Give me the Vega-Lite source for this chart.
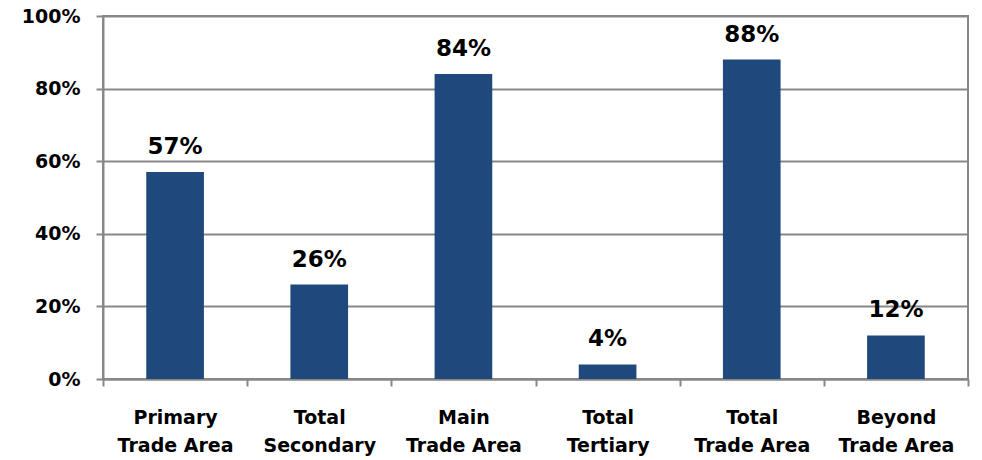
{
  "$schema": "https://vega.github.io/schema/vega-lite/v6.json",
  "autosize": {"type": "none"},
  "width": 865,
  "height": 363,
  "padding": {"left": 103, "top": 16, "right": 14, "bottom": 81},
  "background": "white",
  "config": {
    "view": {"stroke": "#888888", "strokeWidth": 2},
    "font": "DejaVu Sans"
  },
  "data": {
    "values": [
      {"area": "Primary|Trade Area", "share": 0.57, "label": "57%"},
      {"area": "Total|Secondary", "share": 0.26, "label": "26%"},
      {"area": "Main|Trade Area", "share": 0.84, "label": "84%"},
      {"area": "Total|Tertiary", "share": 0.04, "label": "4%"},
      {"area": "Total|Trade Area", "share": 0.88, "label": "88%"},
      {"area": "Beyond|Trade Area", "share": 0.12, "label": "12%"}
    ]
  },
  "encoding": {
    "x": {
      "field": "area",
      "type": "nominal",
      "sort": null,
      "scale": {"paddingInner": 0, "paddingOuter": 0},
      "axis": {
        "title": null,
        "labelAngle": 0,
        "labelExpr": "isValid(datum.value) ? split(datum.value, '|') : ''",
        "labelFont": "DejaVu Sans",
        "labelFontWeight": "bold",
        "labelFontSize": 19,
        "labelColor": "#000000",
        "labelLineHeight": 28,
        "labelPadding": 22,
        "labelBaseline": "top",
        "tickBand": "extent",
        "tickSize": 7,
        "tickColor": "#888888",
        "tickWidth": 2,
        "domainColor": "#888888",
        "domainWidth": 2,
        "grid": false
      }
    },
    "y": {
      "field": "share",
      "type": "quantitative",
      "scale": {"domain": [0, 1], "nice": false},
      "axis": {
        "title": null,
        "values": [0, 0.2, 0.4, 0.6, 0.8, 1],
        "format": ".0%",
        "labelFont": "DejaVu Sans",
        "labelFontWeight": "bold",
        "labelFontSize": 19,
        "labelColor": "#000000",
        "labelPadding": 16,
        "tickSize": 7,
        "tickColor": "#888888",
        "tickWidth": 2,
        "domainColor": "#888888",
        "domainWidth": 2,
        "grid": true,
        "gridColor": "#888888",
        "gridWidth": 2
      }
    }
  },
  "layer": [
    {
      "mark": {"type": "bar", "color": "#1F497D", "width": {"band": 0.4}}
    },
    {
      "mark": {
        "type": "text",
        "font": "DejaVu Sans",
        "fontWeight": "bold",
        "fontSize": 23,
        "color": "#000000",
        "baseline": "alphabetic",
        "dy": -18
      },
      "encoding": {"text": {"field": "label"}}
    }
  ]
}
